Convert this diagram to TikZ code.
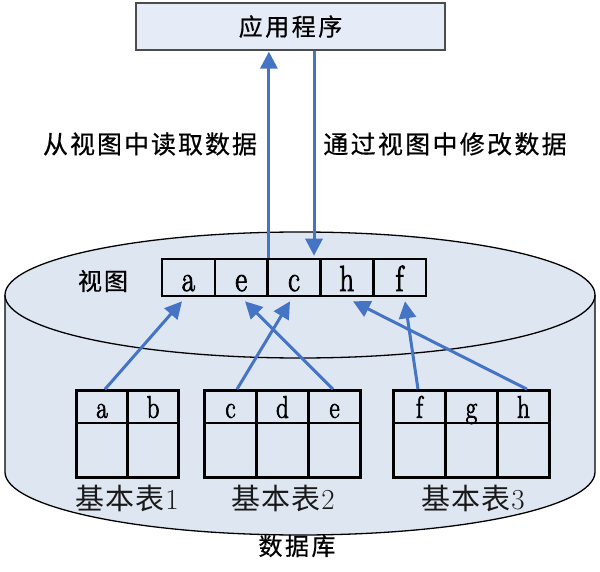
\documentclass[tikz,border=0pt]{standalone}
\usepackage{fontspec}
\usepackage{graphicx}
\newfontfamily\cjk{Noto Sans CJK SC}[FakeBold=0.6]
\newfontfamily\cjkl{Noto Sans CJK SC}
\newfontfamily\lmb{Latin Modern Roman}[FakeBold=2.5]
\usetikzlibrary{arrows.meta,calc}
\definecolor{arrowblue}{HTML}{4674C5}
\definecolor{cylfill}{HTML}{DEE6F2}
\definecolor{appfill}{HTML}{E6ECF7}
\newcommand\gp[1]{\hspace{#1pt}}
\newcommand\tall[1]{\scalebox{1}[1.25]{#1}}
\begin{document}
\begin{tikzpicture}[x=1pt,y=1pt,
  vcell/.style={draw, line width=2.6pt, minimum width=52.8pt, minimum height=37pt,
    inner sep=0pt, text height=27pt, text depth=0pt, font=\lmb\fontsize{29}{29}\selectfont},
  tcell/.style={draw, line width=2.6pt, minimum width=#1, minimum height=32.5pt,
    inner sep=0pt, text height=22pt, text depth=0pt, font=\lmb\fontsize{25}{25}\selectfont},
  bcell/.style={draw, line width=2.6pt, minimum width=#1, minimum height=54.5pt, inner sep=0pt},
  link/.style={draw=arrowblue, line width=3pt, -{Triangle[length=17pt,width=17pt]}},
  lbl/.style={font=\cjk\fontsize{25}{25}\selectfont, inner sep=0pt},
  tlbl/.style={font=\fontsize{29}{29}\selectfont, inner sep=0pt, text=black!90}
]
\useasboundingbox (0,0) rectangle (600,-572);
% cylinder
\fill[cylfill] (5,-295) -- (5,-472) arc[start angle=180,end angle=360,x radius=295,y radius=63]
  -- (595,-295) arc[start angle=0,end angle=180,x radius=295,y radius=63] -- cycle;
\draw[line width=1.3pt] (5,-295) -- (5,-472) arc[start angle=180,end angle=360,x radius=295,y radius=63] -- (595,-295);
\draw[line width=1.3pt] (300,-295) ellipse [x radius=295, y radius=63];
% application box
\node[draw=black!70, fill=appfill, line width=1.2pt, minimum width=309pt, minimum height=47pt,
  inner sep=0pt, font=\cjk\fontsize{24}{24}\selectfont] (app) at (290.5,-26.5) {应\gp{2.5}用\gp{2.5}程\gp{2.5}序};
% view
\node[vcell] (va) at (188.4,-277.5) {\tall{a}};
\node[vcell] (ve) at (241.2,-277.5) {\tall{e}};
\node[vcell] (vc) at (294,-277.5) {\tall{c}};
\node[vcell] (vh) at (346.8,-277.5) {\tall{h}};
\node[vcell] (vf) at (399.6,-277.5) {\tall{f}};
\node[lbl, font=\cjk\fontsize{24}{24}\selectfont] (vlabel) at (103,-281) {视\gp{2}图};
% tables
\node[tcell=51pt] (ta) at (102,-406.75) {\tall{a}};
\node[tcell=51pt] (tb) at (153,-406.75) {\tall{b}};
\node[bcell=51pt] (ba) at (102,-450.25) {};
\node[bcell=51pt] (bb) at (153,-450.25) {};
\node[tcell=52pt] (tc) at (230.5,-406.75) {\tall{c}};
\node[tcell=52pt] (td) at (282.5,-406.75) {\tall{d}};
\node[tcell=52pt] (te) at (334.5,-406.75) {\tall{e}};
\node[bcell=52pt] (bc) at (230.5,-450.25) {};
\node[bcell=52pt] (bd) at (282.5,-450.25) {};
\node[bcell=52pt] (be) at (334.5,-450.25) {};
\node[tcell=52pt] (tf) at (419.5,-406.75) {\tall{f}};
\node[tcell=52pt] (tg) at (471.5,-406.75) {\tall{g}};
\node[tcell=52pt] (th) at (523.5,-406.75) {\tall{h}};
\node[bcell=52pt] (bf) at (419.5,-450.25) {};
\node[bcell=52pt] (bg) at (471.5,-450.25) {};
\node[bcell=52pt] (bh) at (523.5,-450.25) {};
\node[tlbl] (t1) at (127,-498) {{\cjkl 基\gp{1}本\gp{1}表}\gp{1}1};
\node[tlbl] (t2) at (283,-498) {{\cjkl 基\gp{1}本\gp{1}表}\gp{1}2};
\node[tlbl] (t3) at (473,-498) {{\cjkl 基\gp{1}本\gp{1}表}\gp{1}3};
\node[lbl, font=\cjk\fontsize{24}{24}\selectfont] (db) at (297,-546) {数\gp{2.5}据\gp{2.5}库};
% labels
\node[lbl] (read) at (150,-144) {从\gp{2}视\gp{2}图\gp{2}中\gp{2}读\gp{2}取\gp{2}数\gp{2}据};
\node[lbl] (write) at (445,-144) {通\gp{2.3}过\gp{2.3}视\gp{2.3}图\gp{2.3}中\gp{2.3}修\gp{2.3}改\gp{2.3}数\gp{2.3}据};
% arrows
\draw[link] (ve.north east) -- ([yshift=-1]ve.north east |- app.south);
\draw[link] ([xshift=20]vc.north |- app.south) -- ([xshift=20,yshift=2]vc.north);
\draw[link] ([xshift=3]ta.north) -- ([xshift=-6.4,yshift=-4]va.south);
\draw[link] ([xshift=6.5]tc.north) -- ([xshift=-4,yshift=-4]vc.south);
\draw[link] ([xshift=-1.5]te.north) -- ([xshift=3.8,yshift=-4]ve.south);
\draw[link] ([xshift=-1.5]tf.north) -- ([xshift=5.4,yshift=-4]vf.south);
\draw[link] ([xshift=3.5]th.north) -- ([xshift=6.2,yshift=-4]vh.south);
\end{tikzpicture}
\end{document}
